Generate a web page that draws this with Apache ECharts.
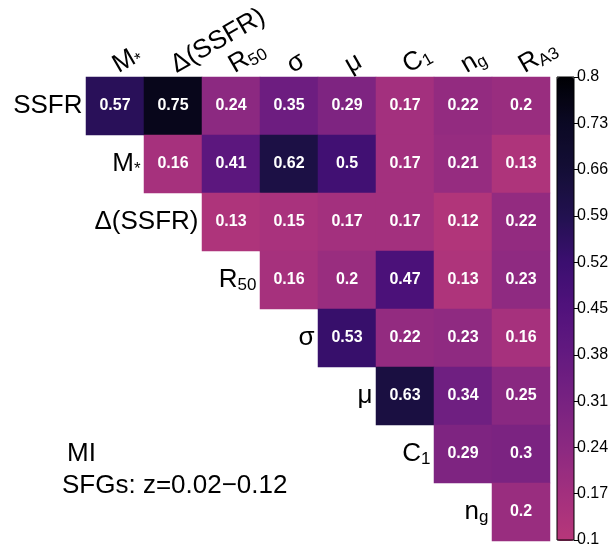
<!DOCTYPE html>
<html>
<head>
<meta charset="utf-8">
<script src="https://cdn.jsdelivr.net/npm/echarts@6/dist/echarts.min.js"></script>
<style>
  html, body { margin: 0; padding: 0; background: #fff; }
  #chart { width: 615px; height: 548px; }
</style>
</head>
<body>
<div id="chart"></div>
<script>
// column and row names (rich text for subscripts)
const colNames = ["M{s|*}", "Δ(SSFR)", "R{s|50}", "σ", "μ", "C{s|1}", "n{s|g}", "R{s|A3}"];
const rowNames = ["SSFR", "M{s|*}", "Δ(SSFR)", "R{s|50}", "σ", "μ", "C{s|1}", "n{s|g}"];

// upper-triangle values, row i starts at column i
const rowSSFR = [0.57, 0.75, 0.24, 0.35, 0.29, 0.17, 0.22, 0.2];
const rowMstar = [0.16, 0.41, 0.62, 0.5, 0.17, 0.21, 0.13];
const rowDSSFR = [0.13, 0.15, 0.17, 0.17, 0.12, 0.22];
const rowR50 = [0.16, 0.2, 0.47, 0.13, 0.23];
const rowSigma = [0.53, 0.22, 0.23, 0.16];
const rowMu = [0.63, 0.34, 0.25];
const rowC1 = [0.29, 0.3];
const rowNg = [0.2];
const rows = [rowSSFR, rowMstar, rowDSSFR, rowR50, rowSigma, rowMu, rowC1, rowNg];

// colorbar tick labels
const barTicks = ["0.1", "0.17", "0.24", "0.31", "0.38", "0.45", "0.52", "0.59", "0.66", "0.73", "0.8"];

const font = "Liberation Sans";

let cells = [];
rows.forEach((vals, r) => {
    vals.forEach((v, k) => {
        cells.push([r + k, r, v]);
    });
});
// row labels sit left of the first cell of each row
let rowLabelPts = rowNames.map((n, r) => ({ value: [r, r], name: n }));

const richSub = {
    b: { fontSize: 26, fontFamily: font, color: "#000", lineHeight: 28 },
    s: { fontSize: 17, fontFamily: font, color: "#000", lineHeight: 17, verticalAlign: "bottom", padding: [15, 0, 0, 0] },
};

function wrap(n) {
    // plain parts go into the big style
    return n.replace(/^([^{]+)/, "{b|$1}");
}

const chart = echarts.init(document.getElementById("chart"));
chart.setOption({
    animation: false,
    grid: [
        { left: 86, top: 77, width: 464, height: 464 },
        { left: 557, top: 77, width: 17, height: 464, show: true, borderColor: "#000", borderWidth: 1, backgroundColor: "transparent", z: 10 },
    ],
    xAxis: [
        {
            type: "category",
            gridIndex: 0,
            position: "top",
            data: colNames,
            axisLine: { show: false },
            axisTick: { show: false },
            axisLabel: {
                interval: 0,
                rotate: -30,
                margin: 10,
                color: "#000",
                formatter: (v) => wrap(v),
                rich: richSub,
            },
        },
        { type: "category", gridIndex: 1, show: false, data: ["a"] },
    ],
    yAxis: [
        {
            type: "category",
            gridIndex: 0,
            inverse: true,
            data: rowNames,
            show: false,
        },
        {
            type: "category",
            gridIndex: 1,
            position: "right",
            boundaryGap: false,
            data: barTicks,
            axisLine: { show: false },
            axisTick: { show: true, length: 4, lineStyle: { color: "#000" }, interval: 0 },
            axisLabel: { interval: 0, margin: 3, fontSize: 16, fontFamily: font, color: "#000" },
        },
    ],
    visualMap: {
        type: "continuous",
        seriesIndex: 0,
        min: 0.1,
        max: 0.8,
        orient: "vertical",
        left: 557,
        top: 77,
        itemWidth: 17,
        itemHeight: 464,
        padding: 0,
        calculable: false,
        inRange: {
            color: ["#b73779", "#a3307e", "#8c2981", "#782281", "#641a80", "#51127c",
                "#3b0f70", "#221150", "#140e36", "#0b0924", "#000004"],
        },
    },
    series: [
        {
            type: "heatmap",
            xAxisIndex: 0,
            yAxisIndex: 0,
            data: cells,
            label: {
                show: true,
                color: "#fff",
                fontWeight: "bold",
                fontSize: 16,
                fontFamily: font,
                formatter: (p) => String(p.value[2]),
            },
        },
        {
            type: "scatter",
            xAxisIndex: 0,
            yAxisIndex: 0,
            data: rowLabelPts,
            symbolSize: 1,
            itemStyle: { color: "rgba(0,0,0,0)", opacity: 1 },
            label: {
                show: true,
                position: "left",
                distance: 32,
                color: "#000",
                opacity: 1,
                formatter: (p) => wrap(p.name),
                rich: richSub,
            },
        },
    ],
    graphic: [
        { type: "text", left: 67, top: 441, style: { text: "MI", fontSize: 26, fontFamily: font, fill: "#000" } },
        { type: "text", left: 62, top: 473, style: { text: "SFGs: z=0.02\u22120.12", fontSize: 26, fontFamily: font, fill: "#000" } },
    ],
});
</script>
</body>
</html>
